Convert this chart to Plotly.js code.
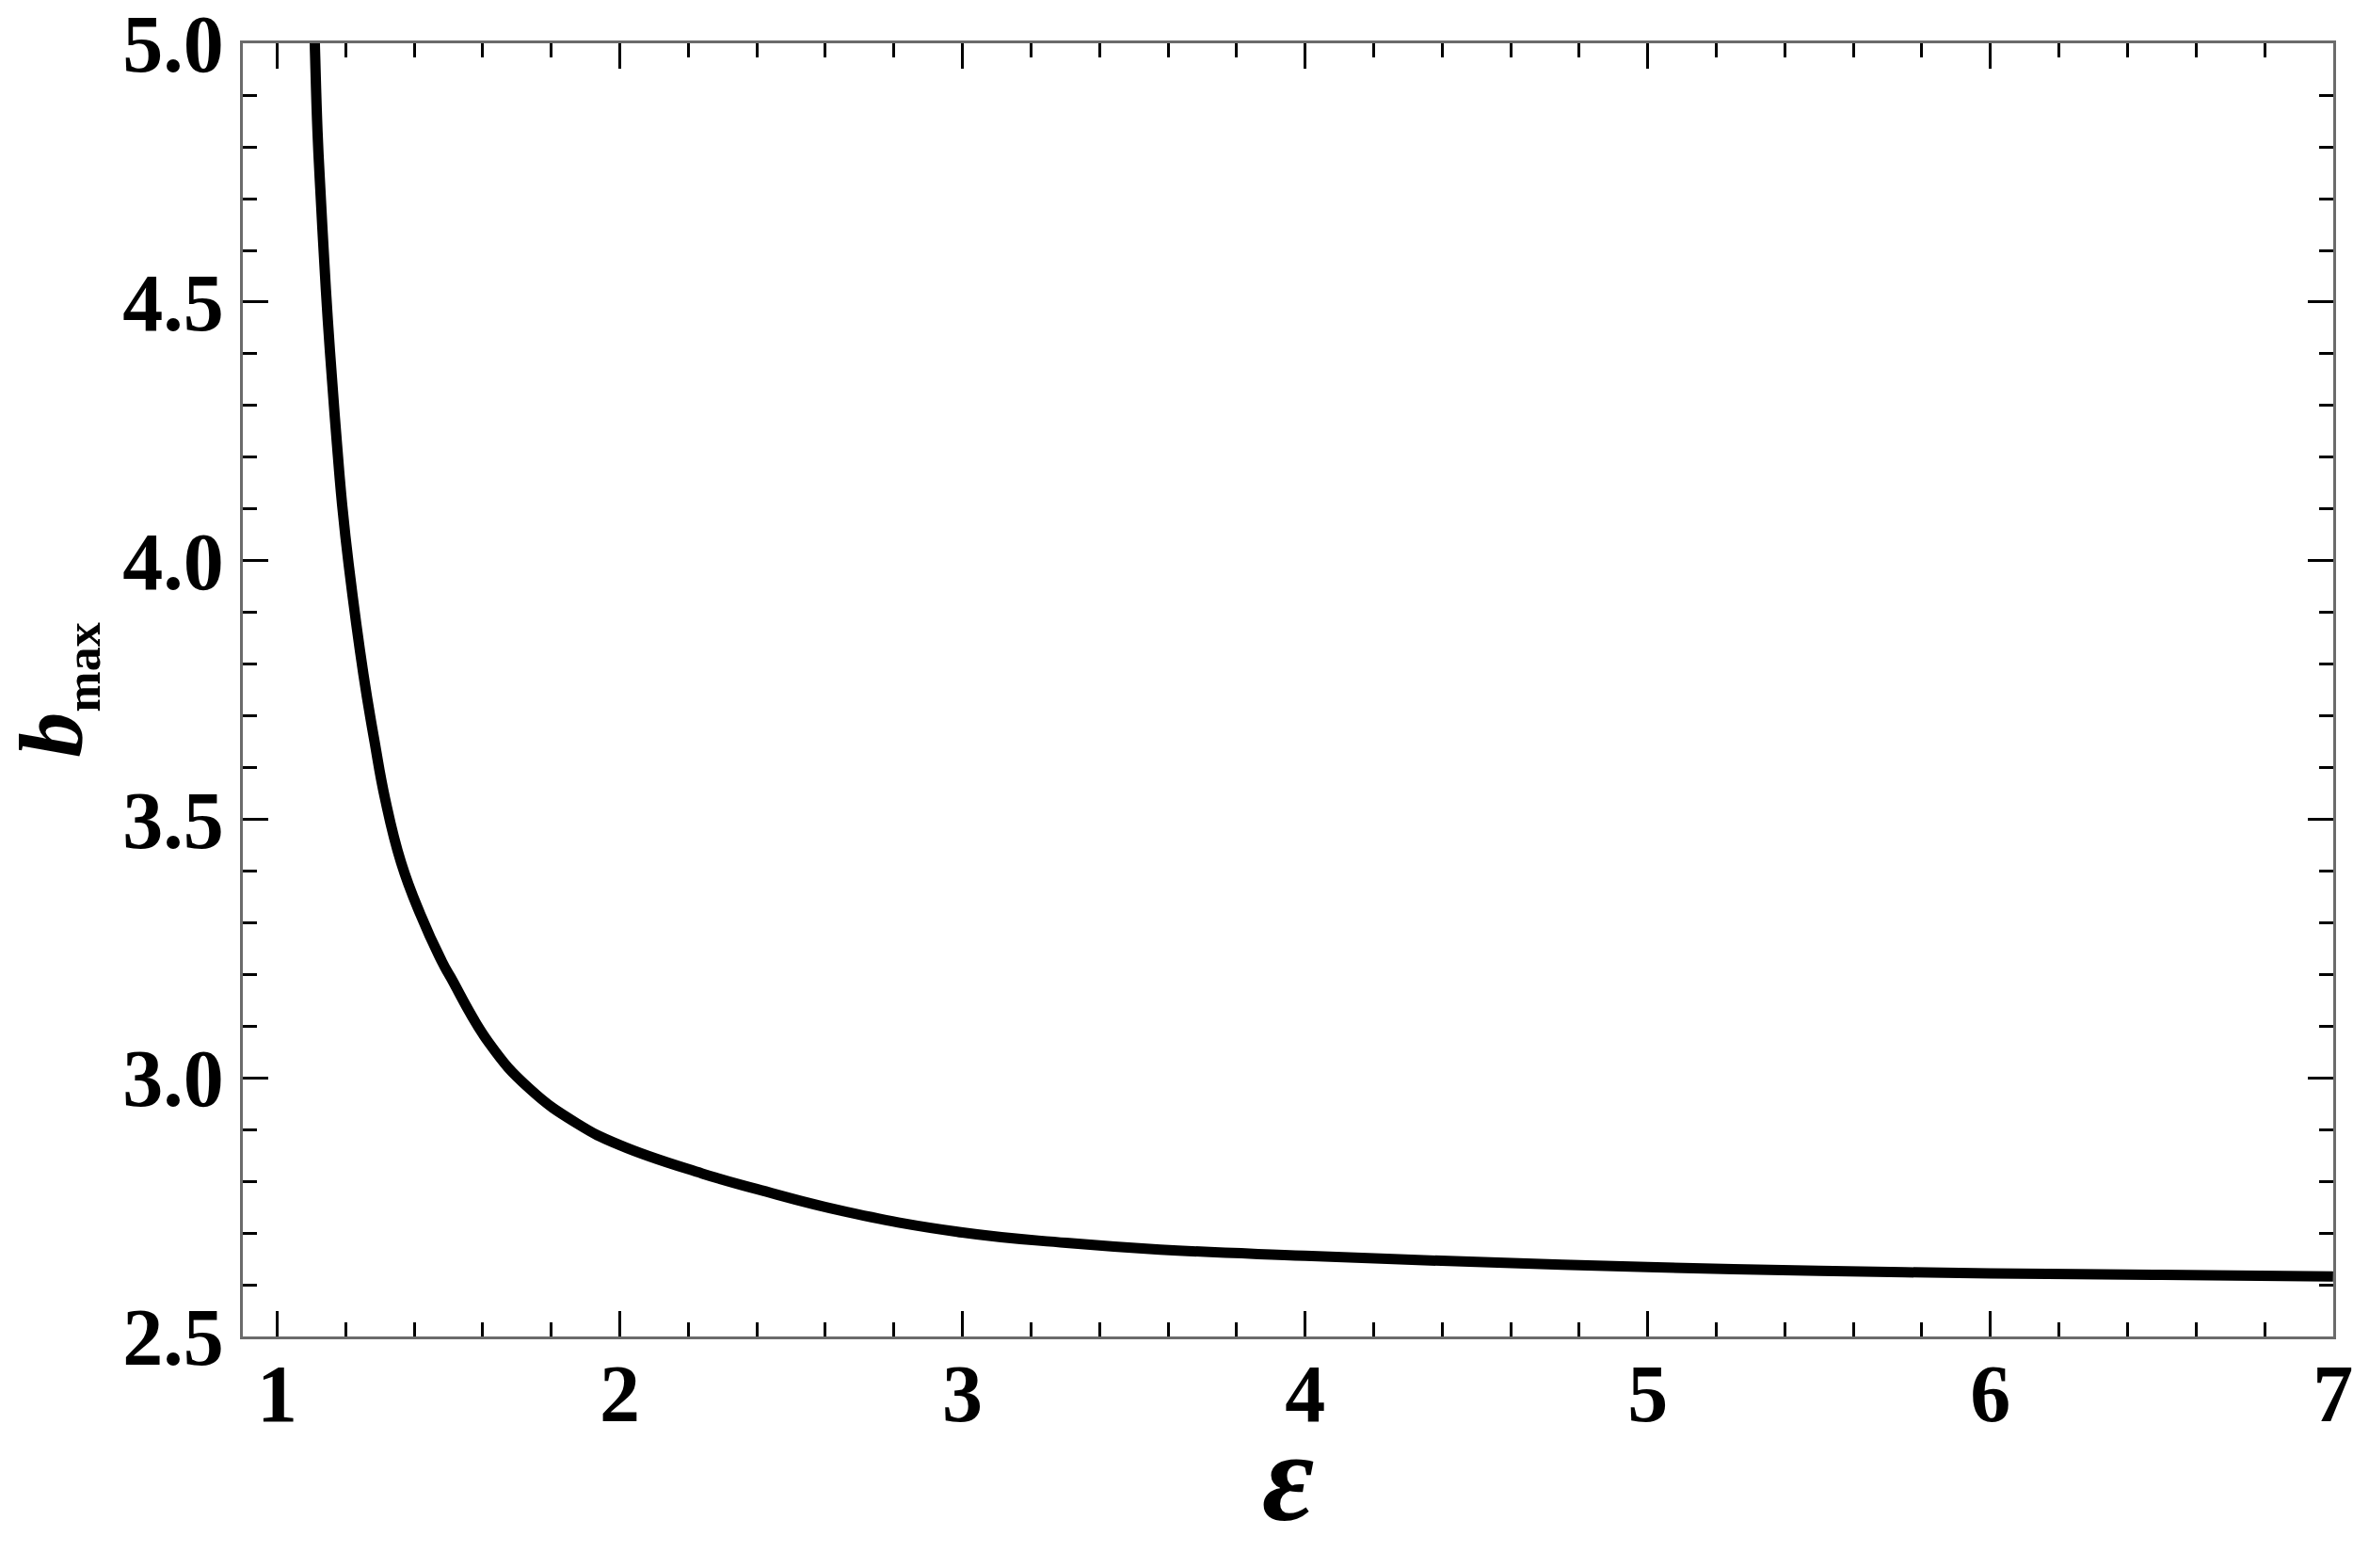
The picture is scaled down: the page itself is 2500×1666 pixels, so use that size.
<!DOCTYPE html>
<html>
<head>
<meta charset="utf-8">
<script src="https://cdn.plot.ly/plotly-3.0.1.min.js"></script>
<style>
  html, body { margin: 0; padding: 0; background: #fff; }
  #bmax_plot { width: 2500px; height: 1666px; }
</style>
</head>
<body>
<div id="bmax_plot"></div>
<script>
// values
var eps = [1.107, 1.110, 1.118, 1.127, 1.137, 1.148, 1.161, 1.175, 1.190, 1.209,
	1.252, 1.284, 1.316, 1.362, 1.417, 1.481, 1.506, 1.618, 1.737, 1.875,
	2.0, 2.241, 2.4, 2.662, 3.0, 3.303, 3.577, 4.0, 4.5, 5.0,
	5.5, 6.0, 6.5, 7.0];
var bmax = [5.07, 5.0, 4.829, 4.708, 4.586, 4.465, 4.344, 4.223, 4.107, 3.992,
	3.78, 3.652, 3.537, 3.416, 3.318, 3.225, 3.195, 3.068, 2.979, 2.912,
	2.870, 2.815, 2.785, 2.741, 2.701, 2.681, 2.668, 2.656, 2.644, 2.634,
	2.627, 2.622, 2.619, 2.616];

var xTicks = [1, 2, 3, 4, 5, 6, 7];
var yTicks = [2.5, 3.0, 3.5, 4.0, 4.5, 5.0];

var curve = {
	x: eps,
	y: bmax,
	mode: 'lines',
	line: {color: 'black', width: 11, shape: 'spline', smoothing: 1.3},
	type: 'scatter',
	hoverinfo: 'skip'
};

var serif = '"Liberation Serif", "Times New Roman", Times, serif';
var tickFont = {family: serif, size: 86, color: 'black', weight: 'bold'};

var layout = {
	width: 2500,
	height: 1666,
	margin: {l: 258, r: 21, t: 46, b: 246},
	paper_bgcolor: 'white',
	plot_bgcolor: 'white',
	showlegend: false,
	xaxis: {
		range: [0.9, 7.0004],
		tickvals: xTicks,
		ticktext: xTicks.map(String),
		ticks: 'inside',
		ticklen: 27,
		tickwidth: 3,
		tickcolor: 'black',
		minor: {dtick: 0.2, tick0: 1, ticks: 'inside', ticklen: 15, tickwidth: 3, tickcolor: 'black'},
		mirror: 'allticks',
		showline: true,
		linecolor: '#6b6b6b',
		linewidth: 3,
		showgrid: false,
		zeroline: false,
		tickfont: tickFont,
		ticklabelstandoff: -16,
		ticklabeloverflow: 'allow'
	},
	yaxis: {
		range: [2.5, 5.0004],
		tickvals: yTicks,
		ticktext: yTicks.map(function (v) { return v.toFixed(1); }),
		ticks: 'inside',
		ticklen: 27,
		tickwidth: 3,
		tickcolor: 'black',
		minor: {dtick: 0.1, tick0: 2.5, ticks: 'inside', ticklen: 15, tickwidth: 3, tickcolor: 'black'},
		mirror: 'allticks',
		showline: true,
		linecolor: '#6b6b6b',
		linewidth: 3,
		showgrid: false,
		zeroline: false,
		tickfont: tickFont,
		ticklabelstandoff: 0,
		ticklabeloverflow: 'allow',
		title: {
			text: '<i>b</i><sub><span style="font-size:52px">max</span></sub>',
			font: {family: serif, size: 96, color: 'black', weight: 'bold'},
			standoff: 46
		}
	},
	annotations: [{
		text: '<i>ε</i>',
		xref: 'paper',
		yref: 'paper',
		x: 0.5,
		y: -0.109,
		xanchor: 'center',
		yanchor: 'middle',
		showarrow: false,
		font: {family: serif, size: 135, color: 'black', weight: 'bold'}
	}]
};

Plotly.newPlot('bmax_plot', [curve], layout, {staticPlot: true});
</script>
</body>
</html>
